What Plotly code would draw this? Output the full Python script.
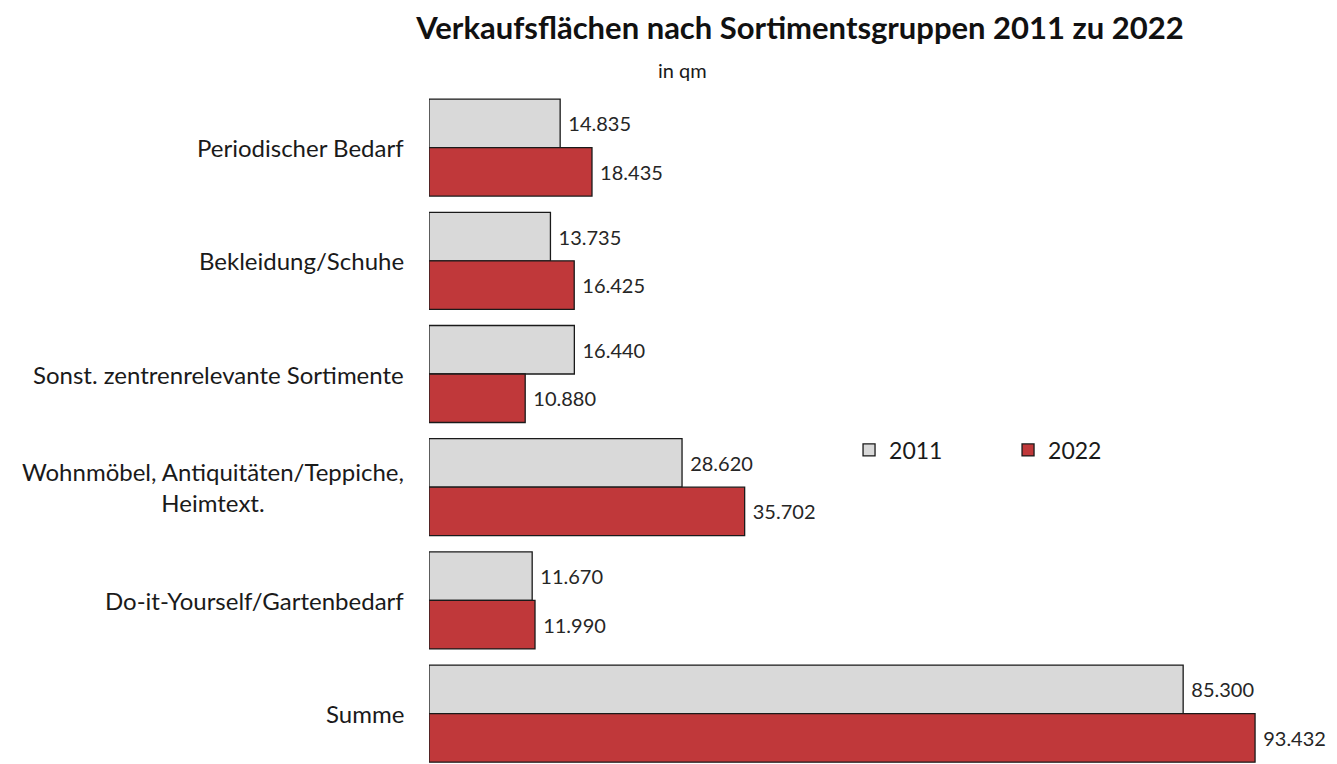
import plotly.graph_objects as go

categories = [
    "Periodischer Bedarf",
    "Bekleidung/Schuhe",
    "Sonst. zentrenrelevante Sortimente",
    "Wohnmöbel, Antiquitäten/Teppiche,<br>Heimtext.",
    "Do-it-Yourself/Gartenbedarf",
    "Summe",
]
values_2011 = [14835, 13735, 16440, 28620, 11670, 85300]
values_2022 = [18435, 16425, 10880, 35702, 11990, 93432]

FONT = "Lato"

# page body adds an 8px margin, so the figure is a bit smaller than the window
W, H = 1329, 756
ML, MT = 421, 83
PW, PH = W - ML, H - MT

fig = go.Figure()
fig.add_trace(go.Bar(
    y=categories, x=values_2011, name="2011", orientation="h",
    marker=dict(color="#d9d9d9", line=dict(color="#1a1a1a", width=1.3)),
    texttemplate=" %{x:,.0f}", textposition="outside",
    textfont=dict(size=20, color="#262626", family=FONT),
    cliponaxis=False,
))
fig.add_trace(go.Bar(
    y=categories, x=values_2022, name="2022", orientation="h",
    marker=dict(color="#c0383a", line=dict(color="#1a1a1a", width=1.3)),
    texttemplate=" %{x:,.0f}", textposition="outside",
    textfont=dict(size=20, color="#262626", family=FONT),
    cliponaxis=False,
))

# category labels as annotations so the two-line label is centred
for c in categories:
    fig.add_annotation(
        x=0, xref="paper", y=c, yref="y", text=c, showarrow=False,
        xanchor="right", align="center", xshift=-23,
        font=dict(size=24, color="#1a1a1a", family=FONT),
    )

fig.add_annotation(
    text="in qm", x=(674 - ML) / PW, xref="paper", y=(H - 62) / PH, yref="paper",
    showarrow=False, xanchor="center", yanchor="middle",
    font=dict(size=20, color="#1a1a1a", family=FONT),
)

fig.update_layout(
    width=W, height=H,
    margin=dict(l=ML, r=0, t=MT, b=0),
    paper_bgcolor="white", plot_bgcolor="white",
    separators=",.",
    barmode="group", bargap=0.143, bargroupgap=0,
    title=dict(
        text="<b>Verkaufsflächen nach Sortimentsgruppen 2011 zu 2022</b>",
        x=792 / W, xanchor="center", y=1 - 20 / H, yanchor="middle",
        font=dict(size=31, color="#111111", family=FONT),
    ),
    xaxis=dict(range=[0, 102700], visible=False, fixedrange=True),
    yaxis=dict(
        categoryorder="array", categoryarray=categories,
        range=[5.445, -0.5], showticklabels=False, showgrid=False,
        zeroline=False, showline=False, ticks="",
    ),
    legend=dict(
        orientation="h", x=0.4626, xanchor="left", y=(H - 442) / PH, yanchor="middle",
        traceorder="normal", entrywidth=114, entrywidthmode="pixels",
        font=dict(size=23, color="#1a1a1a", family=FONT),
        bgcolor="rgba(0,0,0,0)",
    ),
    showlegend=True,
)

fig.write_html("out.html")
